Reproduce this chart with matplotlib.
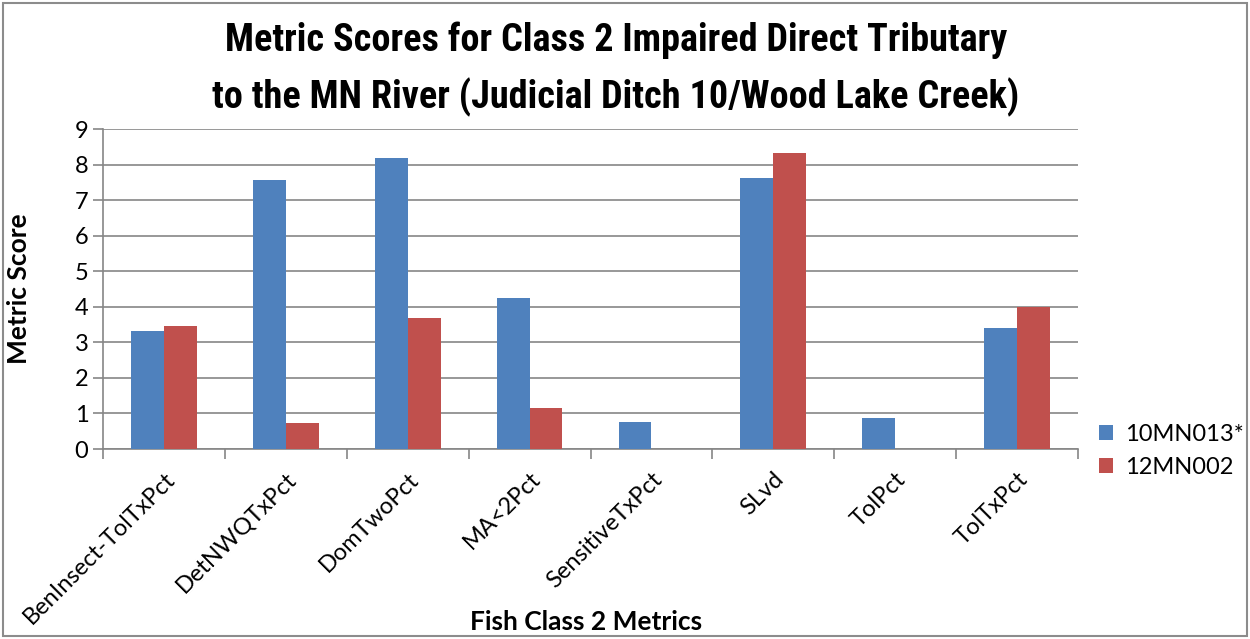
import numpy as np
import matplotlib
matplotlib.use("Agg")
from matplotlib import pyplot as plt
from matplotlib.patches import Rectangle

# ---------------- data ----------------
metrics = ["BenInsect-TolTxPct", "DetNWQTxPct", "DomTwoPct", "MA<2Pct",
           "SensitiveTxPct", "SLvd", "TolPct", "TolTxPct"]
site_a = [3.32, 7.57, 8.18, 4.25, 0.76, 7.63, 0.87, 3.39]   # 10MN013*
site_b = [3.46, 0.73, 3.69, 1.15, 0.0, 8.32, 0.0, 3.99]     # 12MN002
labels = ["10MN013*", "12MN002"]

blue = "#4F81BD"
red = "#C0504D"
grid_col = "#868686"

plt.rcParams['font.family'] = ['Lato', 'DejaVu Sans']
narrow = ['Roboto Condensed', 'Lato', 'DejaVu Sans']

fig = plt.figure(figsize=(12.5, 6.39), dpi=100)
ax = fig.add_axes([0.0824, 0.2973, 0.78, 0.5008])

x = np.arange(len(metrics))
w = 0.27
ax.bar(x - w / 2, site_a, w, color=blue, label=labels[0], zorder=3)
ax.bar(x + w / 2, site_b, w, color=red, label=labels[1], zorder=3)

ax.set_xlim(-0.5, len(metrics) - 0.5)
ax.set_ylim(0, 9)
ax.set_yticks(range(0, 10))
ax.yaxis.grid(True, color=grid_col, linewidth=1.2, zorder=0)

# category ticks sit on the boundaries, labels at the centres
ax.set_xticks(np.arange(-0.5, len(metrics), 1.0))
ax.set_xticklabels([])
ax.set_xticks(x, minor=True)
ax.set_xticklabels(metrics, minor=True, rotation=45, ha='right',
                   rotation_mode='anchor', fontsize=17)
ax.tick_params(axis='x', which='minor', length=0, pad=14)
ax.tick_params(axis='x', which='major', length=7, color=grid_col, width=1.2)
ax.tick_params(axis='y', length=7, color=grid_col, width=1.2, labelsize=17)

for s in ['top', 'right']:
    ax.spines[s].set_visible(False)
for s in ['left', 'bottom']:
    ax.spines[s].set_color(grid_col)
    ax.spines[s].set_linewidth(1.2)

ax.set_ylabel('Metric Score', fontsize=19, fontweight='bold')
ax.yaxis.set_label_coords(-0.074, 0.5)
fig.text(586 / 1250, 1 - 622 / 639, 'Fish Class 2 Metrics', ha='center',
         va='center', fontsize=19, fontweight='bold')

fig.text(616 / 1250, 1 - 40 / 639, 'Metric Scores for Class 2 Impaired Direct Tributary',
         ha='center', va='center', fontsize=27.5, fontweight='bold', family=narrow)
fig.text(616 / 1250, 1 - 97 / 639, 'to the MN River (Judicial Ditch 10/Wood Lake Creek)',
         ha='center', va='center', fontsize=27.5, fontweight='bold', family=narrow)

fig.legend(loc='upper left', bbox_to_anchor=(1078 / 1250, 1 - 403 / 639),
           frameon=False, fontsize=17, handlelength=0.6, handleheight=0.6,
           handletextpad=0.5, labelspacing=0.5)

fig.patches.append(Rectangle((3 / 1250, 3 / 639), 1 - 6 / 1250, 1 - 6 / 639,
                             transform=fig.transFigure, fill=False,
                             edgecolor='#8c8c8c', linewidth=1.5))

fig.savefig('out.png', dpi=100)
